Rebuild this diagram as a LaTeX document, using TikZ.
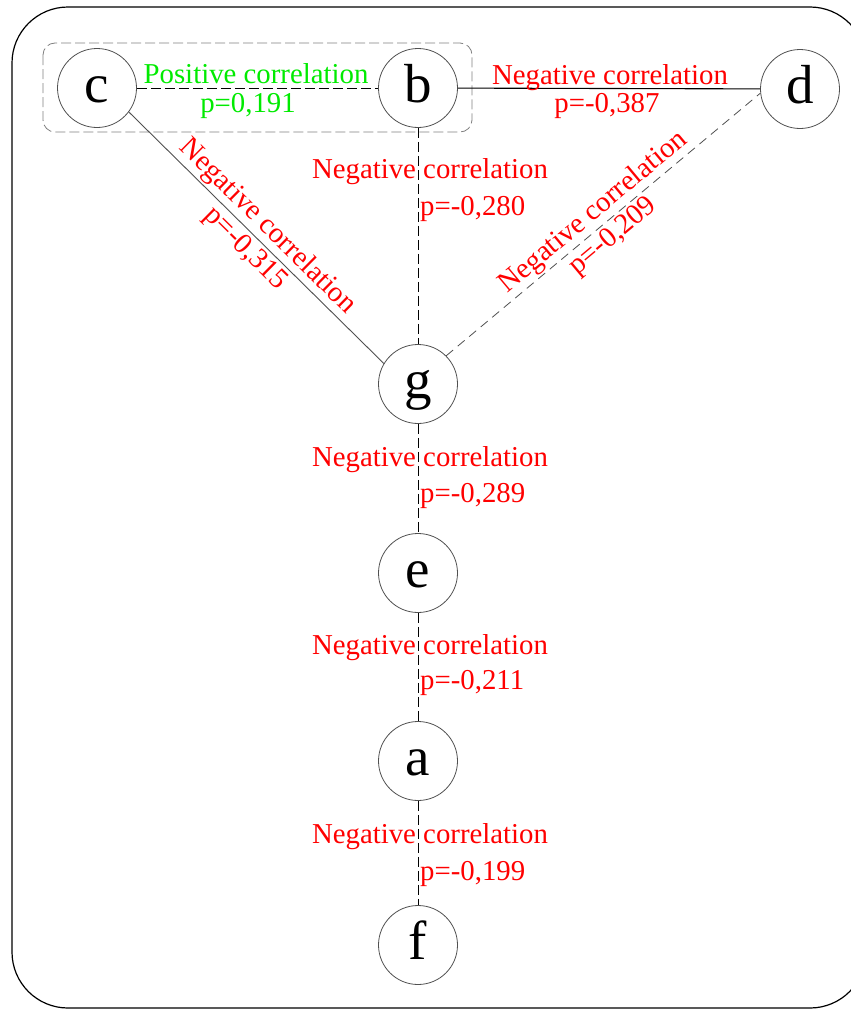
\documentclass[tikz,border=0pt]{standalone}
\usepackage{fontspec}
\setmainfont{Liberation Serif}
\newfontfamily\tnr{Liberation Serif}
\usetikzlibrary{calc}
\definecolor{lred}{RGB}{255,0,0}
\definecolor{lgreen}{RGB}{0,235,0}
\definecolor{cgray}{RGB}{80,80,80}
\begin{document}
\begin{tikzpicture}[x=1pt,y=1pt,
  vtx/.style={circle,draw=cgray,line width=0.8pt,minimum size=79pt,inner sep=0pt,
    font=\tnr\fontsize{55}{60}\selectfont,text height=28pt,text depth=0pt},
  lbl/.style={font=\tnr\fontsize{28.8}{31}\selectfont,inner sep=0pt},
  neglbl/.style={lbl,text=lred},
  poslbl/.style={lbl,text=lgreen},
  blackdash/.style={draw=black,line width=1pt,dash pattern=on 10pt off 4pt},
  graydash/.style={draw=cgray,line width=0.8pt,dash pattern=on 9pt off 6pt},
  solidblack/.style={draw=black,line width=1.1pt},
  solidgray/.style={draw=cgray,line width=0.9pt},
  framebox/.style={draw=black,line width=1.2pt,rounded corners=56pt},
  groupbox/.style={draw=gray,line width=0.8pt,dash pattern=on 10pt off 4pt,rounded corners=12pt}
]
\useasboundingbox (0,0) rectangle (851,-1009);
\clip (0,0) rectangle (851,-1009);
\fill[white] (0,0) rectangle (851,-1009);

% outer frame
\draw[framebox] (12,-7) rectangle (866,-1008);
% group box
\draw[groupbox] (43,-43) rectangle (472,-132);

% vertices
\node[vtx] (c) at (97,-88) {c};
\node[vtx] (b) at (418,-88) {b};
\node[vtx] (d) at (800,-89) {d};
\node[vtx] (g) at (418,-384) {g};
\node[vtx] (e) at (418,-573) {e};
\node[vtx] (a) at (418,-761) {a};
\node[vtx] (f) at (418,-945) {f};

% connectors
\draw[blackdash] (c) -- (b);
\draw[solidblack] (b) -- (d);
\draw[solidgray] (c.-37) -- (g.149);
\draw[graydash] (g.45) -- (d.186);
\draw[blackdash] (b) -- (g);
\draw[blackdash] (g) -- (e);
\draw[blackdash] (e) -- (a);
\draw[blackdash] (a) -- (f);

% labels c-b
\node[poslbl,anchor=base] (lcb1) at (256,-83) {Positive correlation};
\node[poslbl,anchor=base] (lcb2) at (248,-112) {p=0,191};
% labels b-d
\node[neglbl,anchor=base] (lbd1) at (610,-84) {Negative correlation};
\node[neglbl,anchor=base] (lbd2) at (607,-112) {p=-0,387};
% labels c-g
\path (c.-37) -- (g.149) node[neglbl,sloped,pos=0.5,align=center] (lcg) {Negative correlation\\p=-0,315};
% labels g-d
\path (g.45) -- (d.186) node[neglbl,sloped,pos=0.5,align=center] (lgd) {Negative correlation\\p=-0,209};
% labels b-g
\node[neglbl,anchor=base] (lbg1) at (430,-178) {Negative correlation};
\node[neglbl,anchor=base west] (lbg2) at (420,-215) {p=-0,280};
% labels g-e
\node[neglbl,anchor=base] (lge1) at (430,-466) {Negative correlation};
\node[neglbl,anchor=base west] (lge2) at (420,-502) {p=-0,289};
% labels e-a
\node[neglbl,anchor=base] (lea1) at (430,-654) {Negative correlation};
\node[neglbl,anchor=base west] (lea2) at (420,-689) {p=-0,211};
% labels a-f
\node[neglbl,anchor=base] (laf1) at (430,-843) {Negative correlation};
\node[neglbl,anchor=base west] (laf2) at (420,-880) {p=-0,199};
\end{tikzpicture}
\end{document}
